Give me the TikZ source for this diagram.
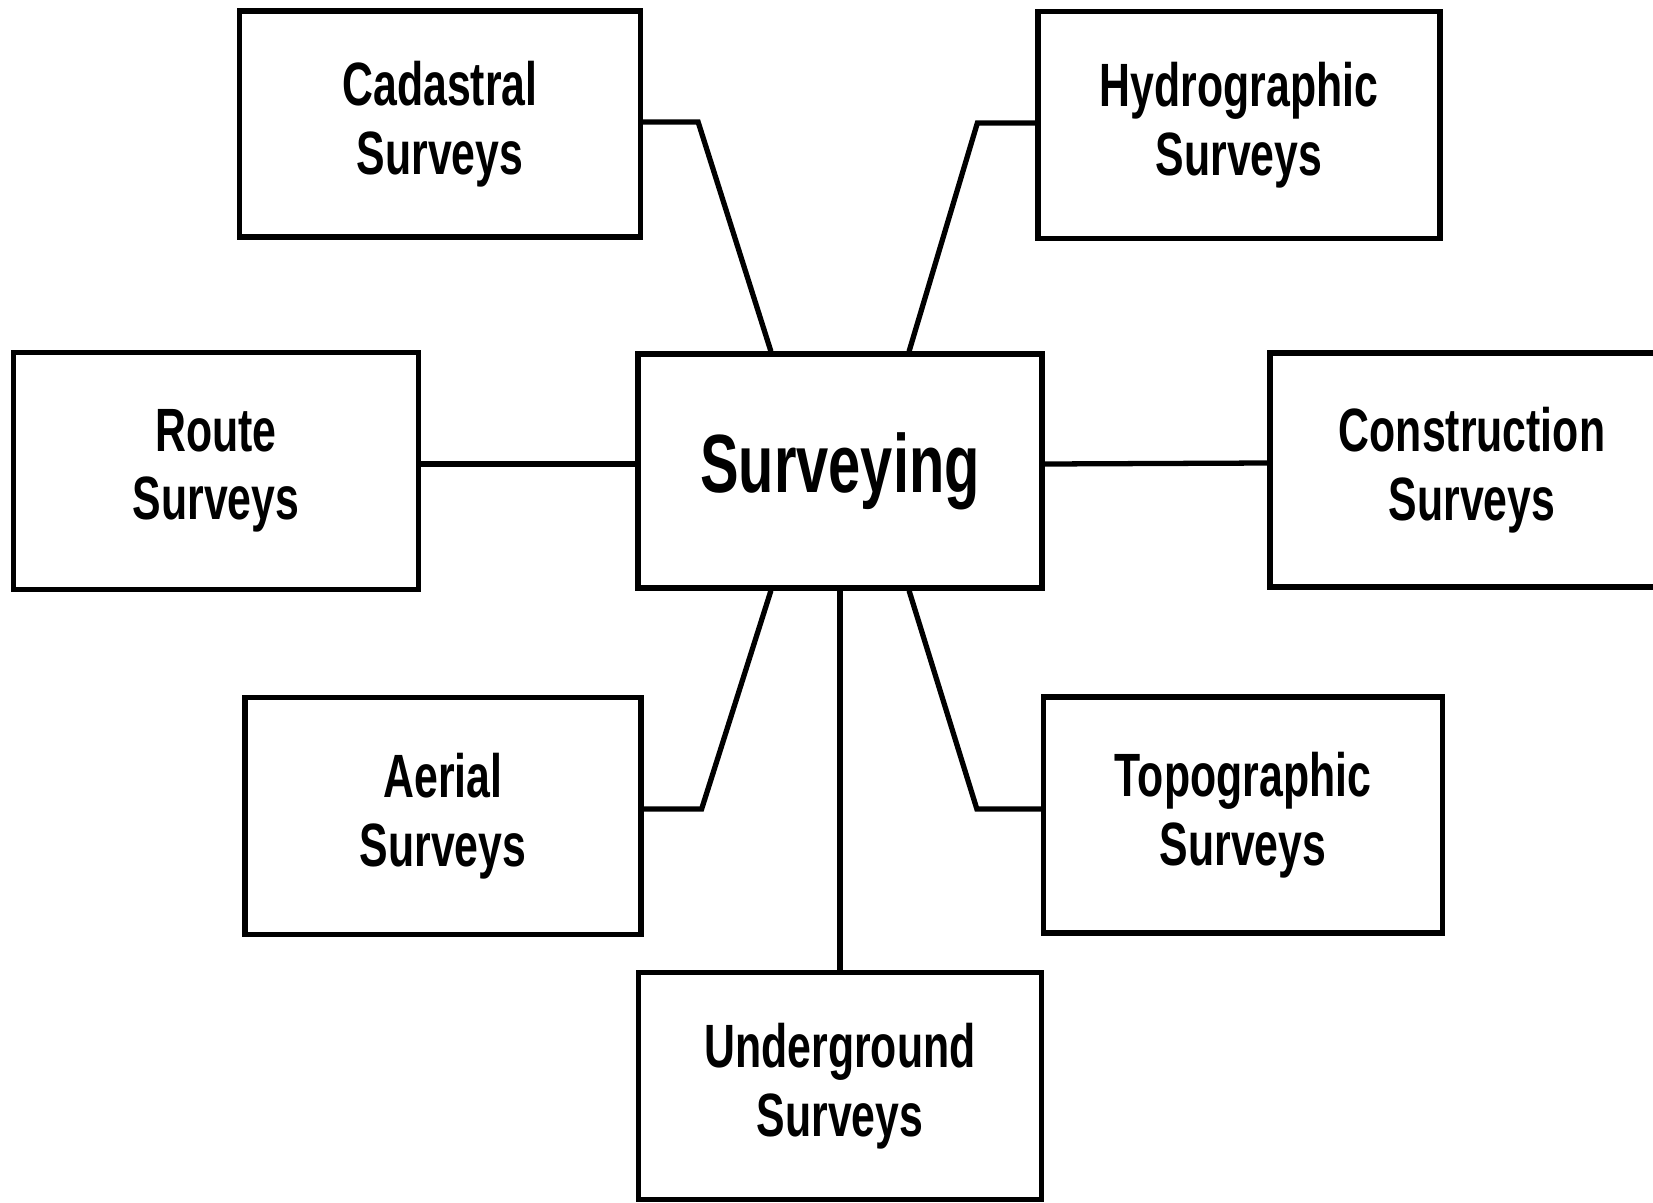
\documentclass[tikz,border=0pt]{standalone}
\usepackage{fontspec}
\setmainfont{Liberation Sans}[FakeStretch=0.70]
\begin{document}
\begin{tikzpicture}[
    survbox/.style={draw, line width=1.5pt, inner sep=0pt, align=center,
        font=\fontsize{17.4}{19.5}\selectfont\bfseries,
        minimum width=4.02cm, minimum height=2.3cm},
    link/.style={line width=1.5pt, draw=black}
  ]
    \useasboundingbox (0,0) rectangle (16.53,-12.03);

    % root
    \node[survbox, minimum width=4.04cm, minimum height=2.34cm,
        font=\fontsize{23.5}{26}\selectfont\bfseries] (surveying) at (8.40, -4.71) {Surveying};

    % upper row
    \node[survbox, minimum width=4.01cm, minimum height=2.26cm] (cadastral) at (4.40, -1.24) {Cadastral\\Surveys};
    \node[survbox, minimum width=4.02cm, minimum height=2.27cm] (hydro) at (12.39, -1.25) {Hydrographic\\Surveys};

    % middle row
    \node[survbox, minimum width=4.05cm, minimum height=2.37cm] (route) at (2.16, -4.71) {Route\\Surveys};
    \node[survbox, minimum width=4.04cm, minimum height=2.34cm] (construct) at (14.72, -4.70) {Construction\\Surveys};

    % lower row
    \node[survbox, minimum width=3.96cm, minimum height=2.37cm] (aerial) at (4.43, -8.16) {Aerial\\Surveys};
    \node[survbox, minimum width=3.99cm, minimum height=2.36cm] (topo) at (12.43, -8.15) {Topographic\\Surveys};
    \node[survbox, minimum width=4.03cm, minimum height=2.27cm] (underground) at (8.40, -10.86) {Underground\\Surveys};

    % root - branches
    \draw[link] ([yshift=0.02cm]cadastral.east) -- ++(0.55,0) -- (surveying.120);
    \draw[link] ([yshift=0.02cm]hydro.west) -- ++(-0.58,0) -- (surveying.60);
    \draw[link] ([yshift=0.07cm]route.east) -- ([yshift=0.07cm]surveying.west);
    \draw[link] ([yshift=0.07cm]surveying.east) -- ([yshift=0.07cm]construct.west);
    \draw[link] ([yshift=0.07cm]aerial.east) -- ++(0.58,0) -- (surveying.240);
    \draw[link] ([yshift=0.06cm]topo.west) -- ++(-0.64,0) -- (surveying.300);
    \draw[link] (surveying.south) -- (underground.north);

\end{tikzpicture}
\end{document}
